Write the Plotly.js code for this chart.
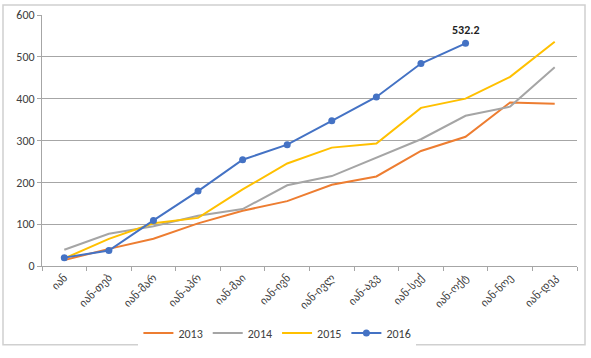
<!DOCTYPE html>
<html>
<head>
<meta charset="utf-8">
<script src="https://cdn.plot.ly/plotly-3.0.1.min.js"></script>
<style>
html,body{margin:0;padding:0;background:#fff;}
#chart{width:591px;height:358px;}
</style>
</head>
<body>
<div id="chart"></div>
<script>
const categories = ["იან","იან-თებ","იან-მარ","იან-აპრ","იან-მაი","იან-ივნ","იან-ივლ","იან-აგვ","იან-სექ","იან-ოქტ","იან-ნოე","იან-დეკ"];
const seriesNames = ["2013","2014","2015","2016"];
const v2013 = [14, 41, 65, 102, 132, 155, 194, 214, 275, 309, 391, 388];
const v2014 = [39, 77, 95, 120, 136, 193, 215, 259, 303, 359, 381, 475];
const v2015 = [18, 65, 102, 115, 183, 245, 283, 293, 378, 400, 452, 536];
const v2016 = [20, 37, 109, 179, 254, 290, 347, 404, 484, 532.2];
const yTicks = [0, 100, 200, 300, 400, 500, 600];

const colors = ["#ED7D31", "#A5A5A5", "#FFC000", "#4472C4"];
const font = "Calibri, Carlito, 'Liberation Sans', 'DejaVu Sans', sans-serif";

const allVals = [v2013, v2014, v2015, v2016];
const traces = allVals.map((vals, i) => ({
  type: "scatter",
  mode: i === 3 ? "lines+markers" : "lines",
  name: seriesNames[i],
  x: categories.slice(0, vals.length),
  y: vals,
  line: {color: colors[i], width: 2},
  marker: {color: colors[i], size: 7},
  hoverinfo: "x+y+name"
}));

const lastIdx = v2016.length - 1;
const layout = {
  width: 591, height: 358,
  margin: {l: 42, r: 14, t: 15, b: 91},
  paper_bgcolor: "#fff",
  plot_bgcolor: "#fff",
  font: {family: font, size: 12, color: "#404040"},
  showlegend: true,
  legend: {
    orientation: "h",
    x: 0.44, xanchor: "center",
    y: -0.262, yanchor: "middle",
    font: {size: 12, color: "#404040"},
    itemwidth: 30,
    tracegroupgap: 0
  },
  xaxis: {
    type: "category",
    categoryorder: "array",
    categoryarray: categories,
    range: [-0.5, categories.length - 0.5],
    tickangle: -45,
    tickson: "boundaries",
    ticks: "outside",
    ticklen: 4,
    tickcolor: "#a6a6a6",
    showline: true,
    linecolor: "#a6a6a6",
    linewidth: 1,
    showgrid: false,
    tickfont: {size: 11, color: "#404040", family: "'DejaVu Sans', sans-serif"},
    fixedrange: true
  },
  yaxis: {
    range: [0, 600],
    tickvals: yTicks,
    ticktext: yTicks.map(String),
    ticks: "outside",
    ticklen: 4,
    tickcolor: "#a6a6a6",
    showline: true,
    linecolor: "#a6a6a6",
    linewidth: 1,
    showgrid: true,
    gridcolor: "#a6a6a6",
    gridwidth: 1,
    zeroline: false,
    tickfont: {size: 12, color: "#404040"},
    fixedrange: true
  },
  annotations: [{
    x: categories[lastIdx],
    y: v2016[lastIdx],
    xref: "x", yref: "y",
    text: "<b>" + v2016[lastIdx].toFixed(1) + "</b>",
    showarrow: false,
    yanchor: "bottom",
    yshift: 4,
    font: {size: 12, color: "#222"}
  }],
  shapes: [{
    type: "rect",
    xref: "paper", yref: "paper",
    x0: (3 - 42) / 535, x1: (585 - 42) / 535,
    y0: (267 - 346) / 252, y1: (267 - 5) / 252,
    line: {color: "#d0d0d0", width: 1.5},
    fillcolor: "rgba(0,0,0,0)",
    layer: "below"
  }]
};

Plotly.newPlot("chart", traces, layout, {displayModeBar: false, staticPlot: true});
</script>
</body>
</html>
